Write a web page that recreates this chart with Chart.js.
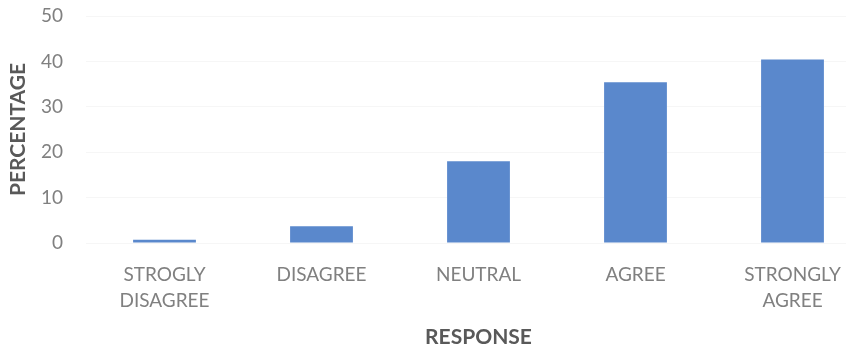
<!DOCTYPE html>
<html>
<head>
<meta charset="utf-8">
<script src="https://cdn.jsdelivr.net/npm/chart.js@4"></script>
<style>
  html, body { margin: 0; padding: 0; background: #fff; overflow: hidden; }
  #wrap { width: 872px; height: 354px; }
</style>
</head>
<body>
<div id="wrap"><canvas id="chart" width="872" height="354"></canvas></div>
<script>
// Dados
const categories = [['STROGLY', 'DISAGREE'], 'DISAGREE', 'NEUTRAL', 'AGREE', ['STRONGLY', 'AGREE']];
const percentages = [0.7, 3.7, 18, 35.4, 40.4];
const yTicks = [0, 10, 20, 30, 40, 50];

const fontFamily = 'Lato, "Open Sans", sans-serif';

const ctx = document.getElementById('chart').getContext('2d');
new Chart(ctx, {
  type: 'bar',
  data: {
    labels: categories,
    datasets: [{
      data: percentages,
      backgroundColor: '#5a88cc',
      borderWidth: 0,
      categoryPercentage: 1,
      barPercentage: 0.4
    }]
  },
  options: {
    responsive: false,
    animation: false,
    layout: { padding: { top: 16, right: 1, left: 0, bottom: 0 } },
    plugins: {
      legend: { display: false },
      tooltip: { enabled: false }
    },
    scales: {
      x: {
        grid: { display: false, drawTicks: false },
        border: { display: false },
        ticks: {
          color: '#808080',
          padding: 19,
          maxRotation: 0,
          autoSkip: false,
          font: { family: fontFamily, size: 19, lineHeight: '26px' }
        },
        title: {
          display: true,
          text: 'RESPONSE',
          color: '#595959',
          padding: { top: 4, bottom: 4 },
          font: { family: fontFamily, size: 21, weight: 'bold' }
        },
        afterFit: function(scale) { scale.height = 111; }
      },
      y: {
        min: 0,
        max: 50,
        afterBuildTicks: function(scale) {
          scale.ticks = yTicks.map(v => ({ value: v }));
        },
        grid: { color: 'rgba(0,0,0,0.035)', drawTicks: false },
        border: { display: false },
        ticks: {
          color: '#808080',
          padding: 23,
          font: { family: fontFamily, size: 19 }
        },
        title: {
          display: true,
          text: 'PERCENTAGE',
          color: '#595959',
          padding: { top: 6, bottom: 6 },
          font: { family: fontFamily, size: 21, weight: 'bold' }
        },
        afterFit: function(scale) {
          scale.width = 86;
          scale.paddingTop = 0;
          scale.paddingBottom = 0;
        }
      }
    }
  }
});
</script>
</body>
</html>
